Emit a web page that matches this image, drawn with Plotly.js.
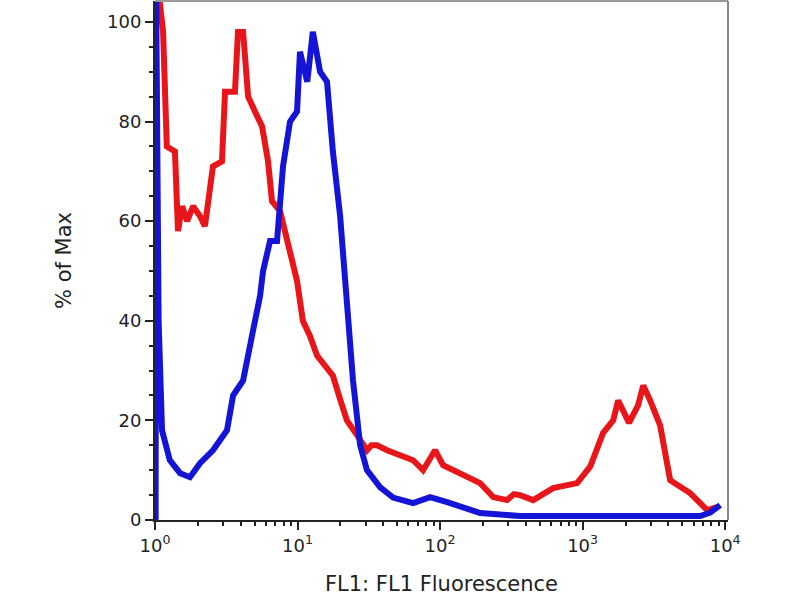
<!DOCTYPE html>
<html>
<head>
<meta charset="utf-8">
<script src="https://cdn.plot.ly/plotly-3.0.1.min.js"></script>
<style>html,body{margin:0;padding:0;background:#fff;}#chart{width:800px;height:600px;}</style>
</head>
<body>
<div id="chart"></div>
<script>
// Red histogram (FL1 fluorescence vs % of Max)
const redX = [1.05, 1.08, 1.14, 1.21, 1.38, 1.45, 1.55, 1.68, 1.85, 2.07, 2.24, 2.43, 2.55, 2.95, 3.10, 3.64, 3.82, 4.15, 4.50, 5.03, 5.64, 6.21, 6.62, 7.54, 8.86, 9.92, 10.9, 12.2, 13.7, 15.5, 17.7, 20.0, 22.2, 26.2, 30.7, 33.0, 36.1, 42.5, 52.4, 64.7, 76.0, 92.2, 105, 125, 145, 191, 236, 295, 330, 364, 450, 621, 915, 1129, 1394, 1638, 1776, 2118, 2448, 2663, 2978, 3499, 4112, 5675, 7475, 8785];
const redY = [102, 104, 98, 75, 74, 58, 63, 60, 63, 61, 59, 67, 71, 72, 86, 86, 98, 98, 85, 82, 79, 72, 64, 62, 54, 48, 40, 37, 33, 31, 29, 24, 20, 17, 14, 15, 15, 14, 13, 12, 10, 14, 11, 10, 9, 7.4, 4.6, 4, 5.2, 5, 4, 6.4, 7.4, 10.7, 17.5, 20, 24, 19.5, 23, 27, 24, 19, 8, 5.4, 2, 2.6];
// Blue histogram
const blueX = [1.01, 1.02, 1.06, 1.12, 1.27, 1.50, 1.76, 2.07, 2.55, 3.20, 3.53, 4.15, 4.87, 5.46, 5.73, 6.41, 7.18, 7.91, 8.86, 9.92, 10.4, 11.7, 12.8, 14.4, 16.1, 17.7, 19.9, 22.2, 24.5, 27.5, 30.7, 37.9, 46.8, 64.7, 85.1, 112, 145, 191, 364, 1327, 6681, 7852, 9225];
const blueY = [0, 104, 40, 18, 12, 9.4, 8.6, 11.4, 14, 18, 25, 28, 38, 45, 50, 56, 56, 71, 80, 82, 94, 88, 98, 90, 88, 74, 61, 45, 28, 15, 10, 6.6, 4.5, 3.4, 4.6, 3.6, 2.6, 1.4, 0.8, 0.7, 0.8, 1.5, 3];
// Axis ticks
const xTickVals = [1, 10, 100, 1000, 10000];
const xTickText = ['10<sup>0</sup>', '10<sup>1</sup>', '10<sup>2</sup>', '10<sup>3</sup>', '10<sup>4</sup>'];
const xMinorVals = [2, 3, 4, 5, 6, 7, 8, 9, 20, 30, 40, 50, 60, 70, 80, 90, 200, 300, 400, 500, 600, 700, 800, 900, 2000, 3000, 4000, 5000, 6000, 7000, 8000, 9000];
const yTickVals = [0, 20, 40, 60, 80, 100];
const yMinorVals = [5, 10, 15, 25, 30, 35, 45, 50, 55, 65, 70, 75, 85, 90, 95];

const data = [
  {x: redX, y: redY, type: 'scatter', mode: 'lines', line: {color: 'rgb(232,22,26)', width: 6}, hoverinfo: 'skip'},
  {x: blueX, y: blueY, type: 'scatter', mode: 'lines', line: {color: 'rgb(20,20,215)', width: 6}, hoverinfo: 'skip'}
];

const fam = 'DejaVu Sans, Verdana, sans-serif';
const txt = '#222';

const layout = {
  width: 800, height: 600,
  margin: {l: 155, r: 72, t: 1, b: 80},
  paper_bgcolor: '#fff', plot_bgcolor: '#fff',
  showlegend: false,
  font: {family: fam, color: txt},
  xaxis: {
    type: 'log', range: [0, 4.02],
    tickmode: 'array', tickvals: xTickVals, ticktext: xTickText,
    ticks: 'outside', ticklen: 8, tickwidth: 2, tickcolor: txt,
    minor: {tickmode: 'array', tickvals: xMinorVals, ticks: 'outside', ticklen: 4, tickwidth: 2, tickcolor: txt},
    showline: true, linecolor: txt, linewidth: 2,
    showgrid: false, zeroline: false,
    tickfont: {size: 18, family: fam, color: txt},
    title: {text: 'FL1: FL1 Fluorescence', font: {size: 21, family: fam, color: txt}, standoff: 22},
    automargin: false
  },
  yaxis: {
    range: [0, 104.2],
    tickmode: 'array', tickvals: yTickVals,
    ticks: 'outside', ticklen: 8, tickwidth: 2, tickcolor: txt,
    minor: {tickmode: 'array', tickvals: yMinorVals, ticks: 'outside', ticklen: 4, tickwidth: 2, tickcolor: txt},
    showline: true, linecolor: txt, linewidth: 2,
    showgrid: false, zeroline: false,
    tickfont: {size: 18, family: fam, color: txt},
    title: {text: '% of Max', font: {size: 21, family: fam, color: txt}, standoff: 30},
    automargin: false
  },
  shapes: [
    {type: 'line', xref: 'paper', yref: 'paper', x0: 0, x1: 1, y0: 1, y1: 1, line: {color: '#999', width: 2}},
    {type: 'line', xref: 'paper', yref: 'paper', x0: 1, x1: 1, y0: 0, y1: 1, line: {color: '#888', width: 2}}
  ]
};

Plotly.newPlot('chart', data, layout, {displayModeBar: false, staticPlot: true});
</script>
</body>
</html>
